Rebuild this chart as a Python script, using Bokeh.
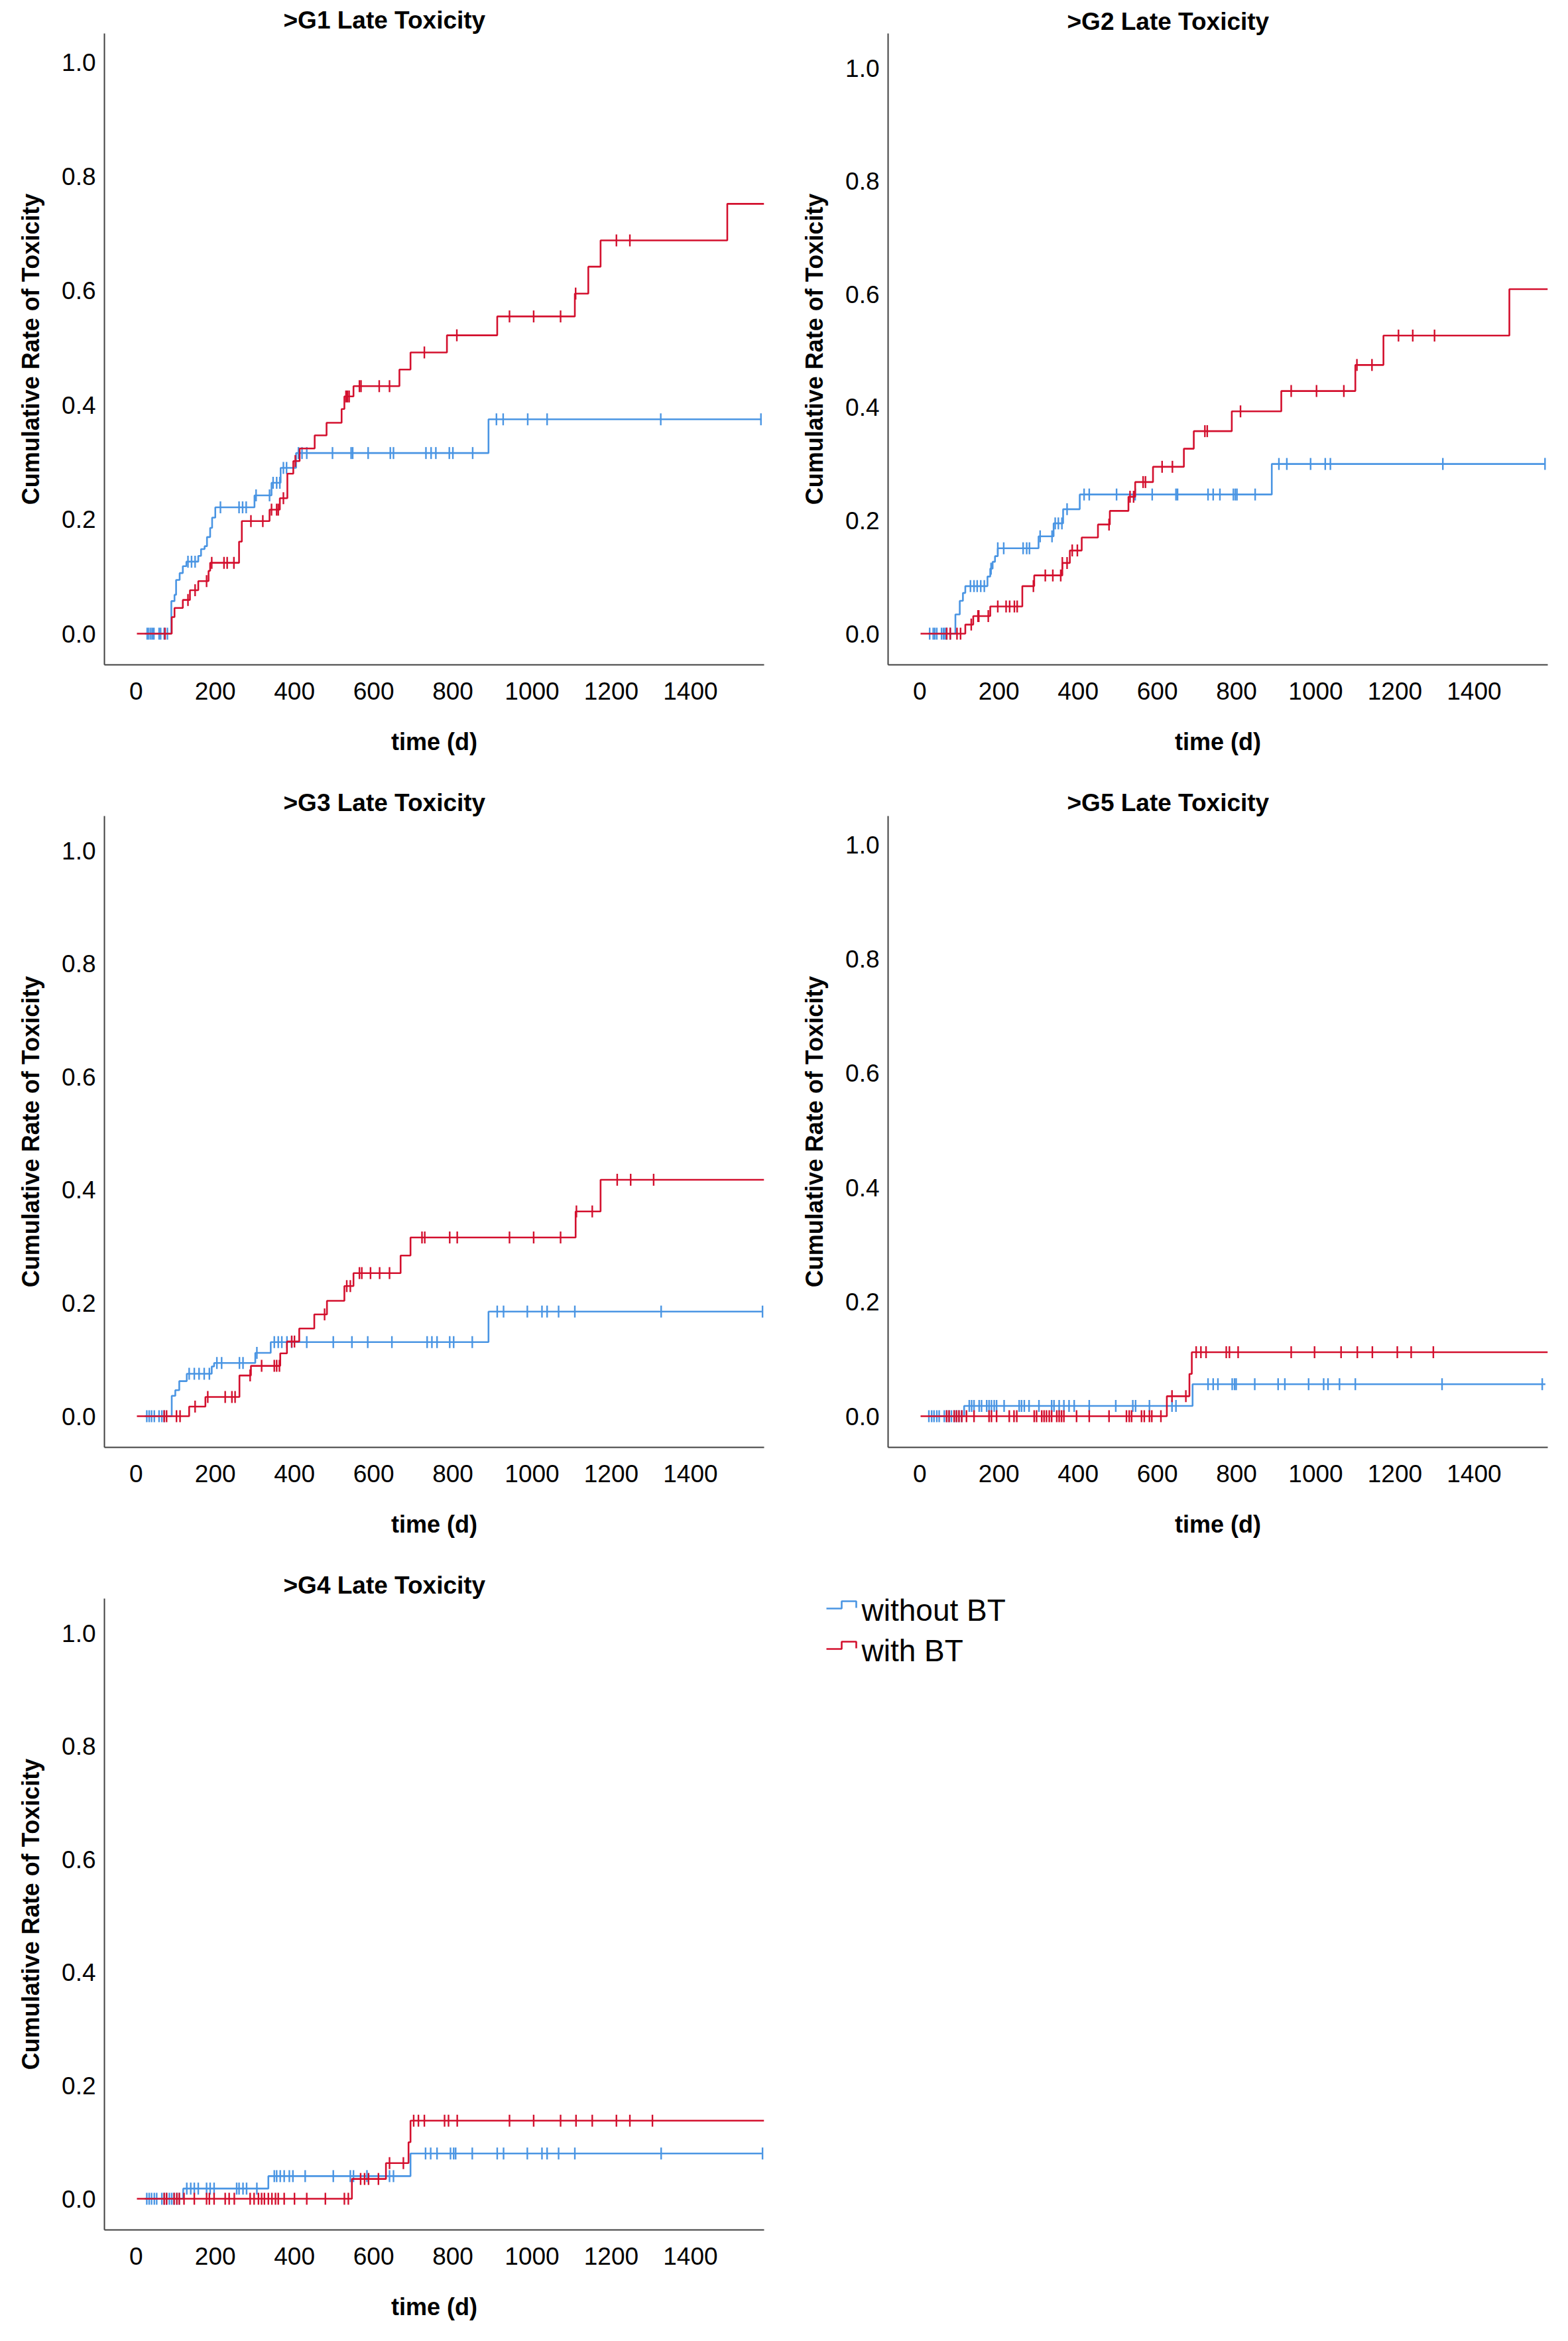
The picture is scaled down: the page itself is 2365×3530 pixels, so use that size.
import numpy as np
from bokeh.plotting import figure
from bokeh.layouts import column, row
from bokeh.models import Range1d, NumeralTickFormatter, FixedTicker
from bokeh.core.properties import value
from bokeh.embed import file_html
from bokeh.resources import INLINE

# ---------------- data ----------------
SERIES = ["without BT", "with BT"]
X_TICKS = [0, 200, 400, 600, 800, 1000, 1200, 1400]
Y_TICKS = [0.0, 0.2, 0.4, 0.6, 0.8, 1.0]
START_BLUE = 22
START_RED = 2
END_BLUE = 1580
END_RED = 1586

# >G1
g1_blue_t = [89, 97, 101, 110, 118, 127, 157, 164, 173, 179, 187, 192, 200, 299, 342, 365, 404, 890]
g1_blue_v = [0.057, 0.068, 0.094, 0.106, 0.118, 0.126, 0.136, 0.148, 0.153, 0.169, 0.185, 0.203, 0.221, 0.242, 0.264, 0.290, 0.316, 0.375]
g1_blue_c = [28, 32, 37, 41, 45, 58, 62, 71, 79, 131, 140, 149, 213, 260, 269, 278, 303, 337, 346, 355, 363, 372, 380,
             410, 419, 431, 496, 543, 547, 586, 642, 650, 732, 745, 757, 791, 800, 850, 910, 927, 989, 1038, 1325, 1578]
g1_red_t = [90, 97, 118, 136, 157, 183, 187, 260, 267, 337, 363, 382, 397, 413, 451, 481, 519, 526, 549, 665, 693, 785, 912, 1108, 1142, 1173, 1493]
g1_red_v = [0.029, 0.045, 0.059, 0.076, 0.092, 0.110, 0.124, 0.161, 0.197, 0.217, 0.237, 0.280, 0.302, 0.324, 0.347, 0.369, 0.393, 0.415, 0.433, 0.462, 0.492, 0.522, 0.555, 0.595, 0.642, 0.688, 0.752]
g1_red_c = [73, 131, 149, 178, 191, 222, 230, 247, 290, 320, 342, 355, 359, 372, 402, 530, 534, 538, 564, 568, 614, 640,
            728, 810, 943, 1004, 1072, 1110, 1213, 1247]

# >G2
g2_blue_t = [90, 101, 109, 115, 171, 178, 184, 190, 197, 300, 338, 362, 404, 889]
g2_blue_v = [0.034, 0.058, 0.072, 0.084, 0.101, 0.115, 0.127, 0.137, 0.151, 0.172, 0.195, 0.220, 0.246, 0.300]
g2_blue_c = [25, 34, 38, 43, 55, 60, 64, 68, 77, 128, 137, 145, 154, 163, 180, 197, 212, 261, 270, 277, 304, 334, 342,
             350, 359, 372, 415, 428, 497, 544, 587, 647, 651, 728, 741, 758, 792, 797, 801, 847, 907, 927, 987, 1024,
             1037, 1321, 1579]
g2_red_t = [115, 135, 178, 259, 289, 360, 379, 409, 450, 480, 527, 544, 589, 667, 692, 788, 913, 1100, 1171, 1489]
g2_red_v = [0.016, 0.031, 0.048, 0.084, 0.103, 0.125, 0.147, 0.170, 0.193, 0.217, 0.242, 0.268, 0.295, 0.327, 0.358, 0.393, 0.429, 0.475, 0.527, 0.609]
g2_red_c = [68, 77, 94, 103, 130, 147, 149, 173, 197, 218, 227, 239, 246, 287, 317, 336, 356, 360, 372, 385, 398, 478,
            531, 540, 564, 570, 612, 638, 720, 726, 810, 938, 1002, 1071, 1104, 1142, 1209, 1245, 1300]

# >G3
g3_blue_t = [90, 99, 109, 128, 191, 197, 301, 340, 890]
g3_blue_v = [0.036, 0.046, 0.062, 0.075, 0.088, 0.094, 0.112, 0.131, 0.185]
g3_blue_c = [27, 33, 39, 46, 58, 65, 71, 134, 147, 159, 172, 185, 204, 216, 261, 270, 305, 349, 359, 368, 381, 393, 431,
             498, 545, 585, 646, 735, 747, 760, 792, 802, 849, 912, 928, 988, 1025, 1038, 1067, 1108, 1326, 1582]
g3_red_t = [134, 175, 261, 290, 364, 381, 412, 450, 482, 526, 549, 668, 693, 1110, 1173]
g3_red_v = [0.017, 0.034, 0.072, 0.089, 0.111, 0.132, 0.155, 0.180, 0.204, 0.230, 0.253, 0.284, 0.316, 0.362, 0.418]
g3_red_c = [71, 77, 102, 111, 149, 181, 225, 242, 250, 288, 317, 349, 355, 362, 393, 400, 476, 532, 541, 564, 570, 592,
            615, 640, 722, 729, 792, 811, 943, 1004, 1072, 1112, 1152, 1215, 1249, 1307]

# >G5
g5_blue_t = [112, 689]
g5_blue_v = [0.018, 0.056]
g5_blue_c = [23, 30, 36, 43, 49, 62, 68, 74, 80, 87, 93, 99, 106, 125, 131, 137, 150, 156, 169, 175, 181, 188, 194, 213,
             251, 257, 264, 276, 301, 333, 339, 352, 364, 377, 390, 428, 495, 538, 545, 580, 637, 647, 728, 741, 753,
             789, 795, 799, 846, 905, 922, 982, 1020, 1031, 1060, 1100, 1319, 1572]
g5_red_t = [624, 681, 687]
g5_red_v = [0.035, 0.074, 0.112]
g5_red_c = [68, 74, 87, 93, 99, 106, 118, 137, 175, 181, 194, 226, 238, 245, 289, 295, 308, 314, 320, 327, 333, 346, 352,
            358, 364, 396, 428, 478, 522, 529, 535, 560, 567, 580, 586, 609, 637, 672, 698, 710, 723, 774, 782, 804,
            938, 997, 1064, 1105, 1143, 1206, 1241, 1297]

# >G4
g4_blue_t = [119, 334, 693]
g4_blue_v = [0.018, 0.040, 0.080]
g4_blue_c = [27, 33, 39, 46, 52, 65, 71, 77, 84, 90, 96, 103, 109, 128, 138, 147, 157, 178, 187, 197, 254, 260, 270, 279,
             305, 349, 355, 364, 374, 387, 396, 427, 498, 541, 549, 583, 640, 650, 731, 744, 760, 794, 802, 807, 849,
             912, 928, 988, 1025, 1038, 1067, 1108, 1326, 1582]
g4_red_t = [545, 631, 688, 693]
g4_red_v = [0.035, 0.063, 0.100, 0.138]
g4_red_c = [71, 77, 96, 103, 109, 121, 147, 178, 185, 197, 225, 235, 248, 288, 298, 309, 317, 324, 334, 343, 352, 359,
            374, 400, 431, 478, 526, 536, 567, 577, 587, 612, 640, 675, 701, 713, 728, 779, 789, 811, 943, 1004, 1072,
            1111, 1152, 1213, 1247, 1304]

BLUE = "#4A95E3"
RED = "#D3102E"
FONT = "Liberation Sans"

W = 1174
TOP = 50          # common top border (frames are aligned within a row)
FRAME_H = 952


def step_arrays(start, times, vals, end):
    x = [start] + list(times) + [end]
    y = [0.0] + list(vals) + [vals[-1]]
    return x, y


def censor_y(times, vals, cens):
    t = np.asarray(times, dtype=float)
    v = np.asarray(vals, dtype=float)
    out = []
    for c in cens:
        idx = np.searchsorted(t, c, side="right") - 1
        out.append(0.0 if idx < 0 else float(v[idx]))
    return out


def panel(title, height, left_border, right_border, y_lo, y_hi, title_standoff,
          bt, bv, bc, rt, rv, rc):
    p = figure(width=W, height=height, output_backend="svg", toolbar_location=None,
               x_range=Range1d(-80, 1586), y_range=Range1d(y_lo, y_hi),
               min_border_left=left_border, min_border_right=right_border,
               min_border_top=TOP, min_border_bottom=height - TOP - FRAME_H)
    p.outline_line_color = None
    p.xgrid.visible = False
    p.ygrid.visible = False
    p.background_fill_color = "white"
    p.border_fill_color = "white"

    p.title.text = title
    p.title.text_font = FONT
    p.title.text_font_size = "37px"
    p.title.text_font_style = "bold"
    p.title.text_color = "black"
    p.title.align = "left"
    p.title.offset = 270
    p.title.standoff = title_standoff

    for ax in (p.xaxis[0], p.yaxis[0]):
        ax.major_tick_line_color = None
        ax.minor_tick_line_color = None
        ax.major_tick_out = 0
        ax.major_tick_in = 0
        ax.minor_tick_out = 0
        ax.minor_tick_in = 0
        ax.axis_line_color = "#404040"
        ax.axis_line_width = 2
        ax.major_label_text_font = FONT
        ax.major_label_text_font_size = "37px"
        ax.major_label_text_color = "black"
        ax.axis_label_text_font = FONT
        ax.axis_label_text_font_size = "36px"
        ax.axis_label_text_font_style = "bold"
        ax.axis_label_text_color = "black"

    p.xaxis.ticker = FixedTicker(ticks=X_TICKS)
    p.yaxis.ticker = FixedTicker(ticks=Y_TICKS)
    p.yaxis.formatter = NumeralTickFormatter(format="0.0")
    p.xaxis.axis_label = "time (d)"
    p.yaxis.axis_label = "Cumulative Rate of Toxicity"
    p.xaxis.major_label_standoff = 26
    p.xaxis.axis_label_standoff = 40
    p.yaxis.major_label_standoff = 13
    p.yaxis.axis_label_standoff = 23

    x, y = step_arrays(START_BLUE, bt, bv, END_BLUE)
    p.step(x, y, mode="after", line_color=BLUE, line_width=2.6)
    p.scatter(bc, censor_y(bt, bv, bc), marker="dash", angle=np.pi / 2, size=18,
              line_color=BLUE, line_width=2.4)

    x, y = step_arrays(START_RED, rt, rv, END_RED)
    p.step(x, y, mode="after", line_color=RED, line_width=2.6)
    p.scatter(rc, censor_y(rt, rv, rc), marker="dash", angle=np.pi / 2, size=18,
              line_color=RED, line_width=2.4)
    return p


A_LO, A_HI = -0.0545, 1.050   # panels whose 1.0 sits higher
B_LO, B_HI = -0.0551, 1.061

p1 = panel(">G1 Late Toxicity", 1180, 157, 22, A_LO, A_HI, 0,
           g1_blue_t, g1_blue_v, g1_blue_c, g1_red_t, g1_red_v, g1_red_c)
p2 = panel(">G2 Late Toxicity", 1180, 165, 14, B_LO, B_HI, -4,
           g2_blue_t, g2_blue_v, g2_blue_c, g2_red_t, g2_red_v, g2_red_c)
p3 = panel(">G3 Late Toxicity", 1180, 157, 22, B_LO, B_HI, 0,
           g3_blue_t, g3_blue_v, g3_blue_c, g3_red_t, g3_red_v, g3_red_c)
p5 = panel(">G5 Late Toxicity", 1180, 165, 14, A_LO, A_HI, 0,
           g5_blue_t, g5_blue_v, g5_blue_c, g5_red_t, g5_red_v, g5_red_c)
p4 = panel(">G4 Late Toxicity", 1154, 157, 22, B_LO, B_HI, 0,
           g4_blue_t, g4_blue_v, g4_blue_c, g4_red_t, g4_red_v, g4_red_c)

# legend panel: ranges chosen so that data units equal figure pixels
LH = 1154
lg = figure(width=W, height=LH, output_backend="svg", toolbar_location=None, title=None,
            x_axis_location=None, y_axis_location=None,
            x_range=Range1d(0, W), y_range=Range1d(TOP + FRAME_H, TOP),
            min_border_left=0, min_border_right=0,
            min_border_top=TOP, min_border_bottom=LH - TOP - FRAME_H)
lg.xgrid.visible = False
lg.ygrid.visible = False
lg.outline_line_color = None
legend_colors = [BLUE, RED]
for i, (name, col) in enumerate(zip(SERIES, legend_colors)):
    yc = 66 + 61 * i
    lg.line([72, 95, 95, 117, 117], [yc - 1, yc - 1, yc - 12, yc - 12, yc - 2], line_color=col, line_width=2.6)
    lg.text([125], [yc + 1], text=[name], text_font=value(FONT), text_font_size="46px",
            text_baseline="middle", text_align="left", text_color="black")

layout = column(row(p1, p2), row(p3, p5), row(p4, lg))

with open("out.html", "w") as f:
    f.write(file_html(layout, INLINE))
